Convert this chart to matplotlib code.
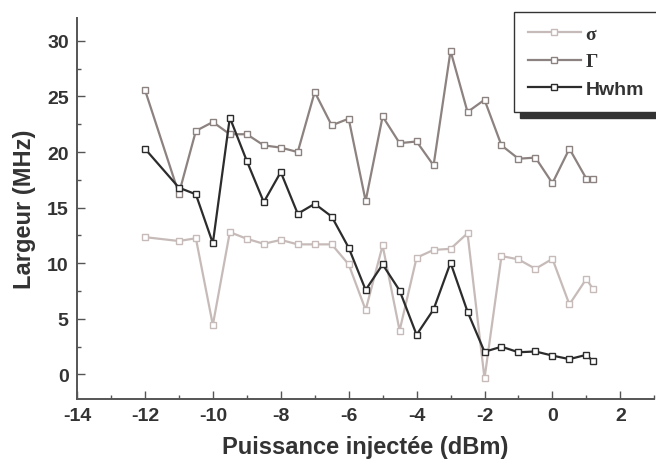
import matplotlib
matplotlib.use("Agg")
import matplotlib.pyplot as plt
from matplotlib.ticker import MultipleLocator

# === Data ===
x = [-12, -11, -10.5, -10, -9.5, -9, -8.5, -8, -7.5, -7, -6.5, -6, -5.5,
     -5, -4.5, -4, -3.5, -3, -2.5, -2, -1.5, -1, -0.5, 0, 0.5, 1, 1.2]
sigma = [12.35, 12.0, 12.25, 4.45, 12.8, 12.2, 11.75, 12.1, 11.7, 11.7, 11.7, 9.9, 5.8,
         11.6, 3.95, 10.5, 11.2, 11.3, 12.7, -0.35, 10.65, 10.35, 9.5, 10.4, 6.3, 8.6, 7.65]
gamma = [25.6, 16.25, 21.9, 22.7, 21.6, 21.6, 20.6, 20.4, 20.0, 25.4, 22.4, 23.0, 15.6,
         23.2, 20.8, 20.95, 18.8, 29.1, 23.6, 24.7, 20.6, 19.4, 19.5, 17.2, 20.3, 17.6, 17.6]
hwhm = [20.3, 16.8, 16.2, 11.8, 23.1, 19.2, 15.5, 18.2, 14.45, 15.35, 14.2, 11.4, 7.6,
        9.9, 7.55, 3.57, 5.85, 10.05, 5.65, 2.04, 2.5, 2.0, 2.07, 1.7, 1.38, 1.77, 1.17]
labels = ["σ", "Γ", "Hwhm"]
colors = ["#c6bbb8", "#8c8280", "#2c2c2c"]

plt.rcParams['font.family'] = ['Liberation Sans', 'DejaVu Sans']
plt.rcParams['font.weight'] = 'bold'
plt.rcParams['axes.unicode_minus'] = False

fig = plt.figure(figsize=(6.56, 4.64), dpi=100)
ax = fig.add_axes([0.1174, 0.138, 0.88, 0.821])

for ys, lab, c in zip([sigma, gamma, hwhm], labels, colors):
    ax.plot(x, ys, color=c, lw=1.6, marker='s', ms=4.2, mfc='white',
            mec=c, mew=1.0, label=lab)

ax.set_xlim(-14, 3)
ax.set_ylim(-2.2, 32.05)
ax.xaxis.set_major_locator(MultipleLocator(2))
ax.xaxis.set_minor_locator(MultipleLocator(1))
ax.yaxis.set_major_locator(MultipleLocator(5))
ax.yaxis.set_minor_locator(MultipleLocator(2.5))
ax.set_yticks(range(0, 31, 5))

for side in ['top', 'right']:
    ax.spines[side].set_visible(False)
for side in ['left', 'bottom']:
    ax.spines[side].set_color('#555555')
    ax.spines[side].set_linewidth(1.4)

ax.tick_params(which='major', direction='in', length=5.5, width=1.0, color='#555555',
               labelsize=14, labelcolor='#333333', pad=6)
ax.tick_params(which='minor', direction='in', length=3, width=1.0, color='#555555')
for t in ax.get_xticklabels() + ax.get_yticklabels():
    t.set_fontweight('bold')

ax.set_xlabel("Puissance injectée (dBm)", fontsize=17, fontweight='bold',
              color='#333333', labelpad=8)
ax.set_ylabel("Largeur (MHz)", fontsize=17, fontweight='bold',
              color='#333333', labelpad=8)

leg = ax.legend(loc='upper left', bbox_to_anchor=(514 / 656, 1 - 12.5 / 464),
                bbox_transform=fig.transFigure, borderaxespad=0,
                fancybox=False, framealpha=1, edgecolor='#333333',
                prop={'size': 14, 'weight': 'bold'},
                handlelength=2.7, handletextpad=0.25, borderpad=0.72,
                labelspacing=0.5,
                shadow={'ox': 4.5, 'oy': -4.5, 'facecolor': '#333333',
                        'edgecolor': '#333333', 'alpha': 1})
leg.get_frame().set_linewidth(1.0)
for txt in leg.get_texts()[:2]:
    txt.set_fontfamily(['Liberation Serif', 'DejaVu Serif'])
for txt in leg.get_texts():
    txt.set_color('#333333')

fig.savefig("out.png", dpi=100)
